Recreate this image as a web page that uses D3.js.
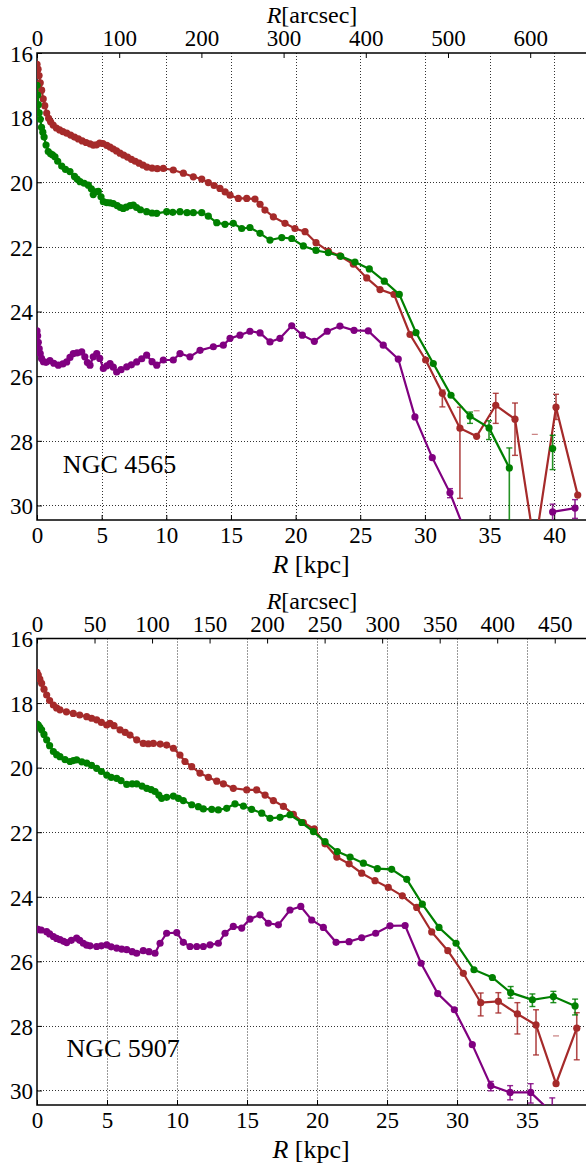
<!DOCTYPE html>
<html>
<head>
<meta charset="utf-8">
<script src="https://cdn.jsdelivr.net/npm/d3@7"></script>
<style>
  body { margin: 0; background: #fff; }
</style>
</head>
<body>
<div id="chart"></div>
<script>
// ---- data: [R (kpc), surface brightness (mag/arcsec^2)], null = gap in line ----
var galaxyNames = ["NGC 4565", "NGC 5907"];
var yTicks = [16, 18, 20, 22, 24, 26, 28, 30];
var kpcTicks4565 = [0, 5, 10, 15, 20, 25, 30, 35, 40];
var kpcTicks5907 = [0, 5, 10, 15, 20, 25, 30, 35];
var arcTicks4565 = [0, 100, 200, 300, 400, 500, 600];
var arcTicks5907 = [0, 50, 100, 150, 200, 250, 300, 350, 400, 450];
var arcsecPerKpc4565 = 15.73;
var arcsecPerKpc5907 = 12.17;

var ngc4565_red = [[0.0,16.35],[0.08,16.5],[0.16,16.7],[0.25,16.92],[0.36,17.15],[0.48,17.42],[0.6,17.63],[0.75,17.86],[0.9,18.02],[1.05,18.13],[1.25,18.23],[1.5,18.32],[1.75,18.38],[2.0,18.43],[2.3,18.48],[2.6,18.54],[2.9,18.6],[3.2,18.66],[3.5,18.72],[3.8,18.77],[4.1,18.81],[4.35,18.85],[4.6,18.84],[4.85,18.79],[5.1,18.8],[5.4,18.86],[5.65,18.91],[5.9,18.97],[6.15,19.03],[6.42,19.1],[6.7,19.16],[7.0,19.22],[7.3,19.29],[7.6,19.35],[7.9,19.41],[8.2,19.47],[8.5,19.53],[8.9,19.56],[9.3,19.58],[9.77,19.57],[10.54,19.62],[11.32,19.72],[12.09,19.83],[12.74,19.9],[13.25,20.01],[13.7,20.1],[14.15,20.19],[14.55,20.3],[14.93,20.4],[15.57,20.5],[16.22,20.5],[16.86,20.52],[17.25,20.68],[17.63,20.86],[18.28,21.07],[19.18,21.27],[19.95,21.43],[20.73,21.53],[21.58,21.87],[22.53,22.13],[23.43,22.28],[24.46,22.53],[25.5,22.96],[26.53,23.32],[27.61,23.47],[28.85,24.71],[30.06,25.5],[31.35,26.53],[32.71,27.61],[34.0,27.86],[35.48,26.9],[36.97,27.33],[38.5,31.3],[40.14,26.96],[41.82,29.68]];
var ngc4565_red_err = [[31.35,26.43,26.95],[32.71,26.96,29.78],[35.48,26.53,27.46],[36.97,26.83,28.45],[40.14,26.56,27.34]];
var ngc4565_red_caps = [[34.0,27.07],[38.5,27.8]];

var ngc4565_green = [[0.0,17.0],[0.05,17.3],[0.1,17.6],[0.17,17.85],[0.25,18.05],[0.35,18.3],[0.45,18.45],[0.55,18.6],[0.7,18.85],[0.87,19.05],[1.05,19.12],[1.2,19.15],[1.39,19.21],[1.6,19.35],[1.91,19.5],[2.2,19.6],[2.55,19.67],[2.9,19.82],[3.1,19.9],[3.33,19.98],[3.65,20.03],[3.97,20.09],[4.2,20.2],[4.35,20.38],[4.5,20.3],[4.74,20.28],[4.95,20.45],[5.13,20.6],[5.4,20.63],[5.65,20.64],[5.9,20.66],[6.2,20.72],[6.45,20.78],[6.67,20.81],[6.9,20.77],[7.2,20.72],[7.45,20.71],[7.7,20.78],[8.0,20.85],[8.48,20.91],[8.9,20.95],[9.26,20.96],[10.03,20.91],[10.5,20.93],[11.06,20.91],[11.6,20.94],[12.09,20.94],[12.74,20.94],[13.25,21.05],[13.9,21.25],[14.54,21.3],[15.18,21.27],[15.83,21.43],[16.47,21.4],[17.25,21.58],[18.02,21.79],[18.93,21.71],[19.7,21.74],[20.6,21.97],[21.58,22.11],[22.53,22.18],[23.49,22.29],[24.59,22.47],[25.7,22.68],[26.86,23.06],[28.02,23.47],[29.31,24.65],[30.65,25.61],[32.02,26.59],[33.49,27.24],[34.96,27.6],[36.53,28.84],null,[39.88,28.24]];
var ngc4565_green_err = [[33.49,27.11,27.46],[34.96,27.38,27.96],[36.53,28.22,32.0],[39.88,27.83,28.89]];

var ngc4565_purple = [[0.0,24.6],[0.05,24.75],[0.1,24.95],[0.17,25.15],[0.25,25.3],[0.35,25.45],[0.5,25.55],[0.7,25.57],[1.0,25.52],[1.3,25.6],[1.65,25.66],[2.0,25.62],[2.3,25.56],[2.55,25.42],[2.81,25.3],[3.1,25.28],[3.46,25.25],[3.7,25.4],[3.9,25.58],[4.1,25.66],[4.35,25.4],[4.62,25.3],[4.85,25.45],[5.13,25.76],[5.4,25.68],[5.65,25.61],[5.9,25.72],[6.16,25.87],[6.5,25.8],[6.94,25.71],[7.3,25.65],[7.71,25.56],[8.1,25.46],[8.48,25.35],[8.9,25.55],[9.26,25.66],[9.77,25.5],[10.54,25.5],[11.06,25.3],[11.83,25.4],[12.61,25.2],[13.64,25.09],[14.41,25.04],[14.93,24.83],[15.7,24.73],[16.47,24.61],[17.25,24.66],[18.02,24.94],[18.79,24.83],[19.7,24.44],[20.52,24.73],[21.45,24.92],[22.45,24.61],[23.43,24.45],[24.52,24.58],[25.62,24.6],[26.78,25.04],[27.94,25.47],[29.23,27.26],[30.57,28.52],[31.94,29.61],[33.3,31.0],null,[39.88,30.2],[41.61,30.08]];
var ngc4565_purple_err = [[31.94,29.48,29.76],[39.88,29.96,30.6],[41.61,29.82,30.4]];

var ngc5907_red = [[0.0,17.05],[0.09,17.13],[0.2,17.26],[0.33,17.39],[0.5,17.57],[0.69,17.75],[0.9,17.92],[1.17,18.06],[1.4,18.15],[1.64,18.21],[2.1,18.27],[2.59,18.32],[3.05,18.37],[3.55,18.42],[3.9,18.47],[4.26,18.52],[4.6,18.6],[4.98,18.68],[5.21,18.63],[5.5,18.7],[5.93,18.83],[6.3,18.91],[6.64,18.99],[7.12,19.14],[7.59,19.25],[7.95,19.26],[8.31,19.25],[8.8,19.27],[9.26,19.3],[9.74,19.4],[10.21,19.61],[10.57,19.81],[11.05,19.97],[11.64,20.17],[12.24,20.3],[12.84,20.42],[13.31,20.5],[14.02,20.64],[14.98,20.69],[15.69,20.69],[16.29,20.85],[16.88,21.02],[17.6,21.2],[18.31,21.45],[19.02,21.7],[19.81,21.9],[20.57,22.36],[21.41,22.77],[22.29,22.98],[23.19,23.27],[24.14,23.5],[25.09,23.71],[26.09,23.97],[27.12,24.33],[28.19,25.09],[29.34,25.67],[30.45,26.37],[31.69,27.28],[32.95,27.24],[34.31,27.63],[35.64,27.97],[37.07,29.79],[38.55,28.07]];
var ngc5907_red_err = [[31.69,26.98,27.69],[32.95,26.97,27.6],[34.31,27.28,28.25],[35.64,27.5,28.9],[38.55,27.59,29.05]];
var ngc5907_red_caps = [[37.07,28.31]];

var ngc5907_green = [[0.0,18.65],[0.09,18.68],[0.2,18.75],[0.33,18.83],[0.5,18.97],[0.69,19.14],[0.9,19.32],[1.17,19.5],[1.4,19.6],[1.64,19.66],[2.0,19.75],[2.36,19.81],[2.6,19.78],[2.83,19.76],[3.2,19.82],[3.55,19.86],[3.9,19.93],[4.26,20.02],[4.6,20.12],[4.98,20.23],[5.3,20.3],[5.69,20.33],[6.0,20.4],[6.41,20.52],[6.8,20.5],[7.12,20.5],[7.5,20.57],[7.84,20.64],[8.15,20.68],[8.43,20.74],[8.7,20.85],[8.9,20.95],[9.26,20.92],[9.74,20.88],[10.1,20.95],[10.45,21.02],[11.05,21.15],[11.52,21.21],[11.88,21.28],[12.48,21.29],[12.95,21.31],[13.55,21.26],[14.14,21.12],[14.74,21.19],[15.33,21.29],[16.05,21.41],[16.64,21.57],[17.36,21.54],[18.07,21.46],[18.9,21.7],[19.74,21.98],[20.57,22.29],[21.45,22.6],[22.36,22.77],[23.31,22.96],[24.31,23.13],[25.33,23.15],[26.41,23.46],[27.52,24.23],[28.71,24.95],[29.93,25.44],[31.21,26.26],[32.52,26.5],[33.83,26.97],[35.38,27.19],[36.88,27.09],[38.43,27.38]];
var ngc5907_green_err = [[33.83,26.78,27.14],[35.38,27.01,27.4],[36.88,26.93,27.28],[38.43,27.17,27.66]];

var ngc5907_purple = [[0.0,25.0],[0.09,25.02],[0.3,25.03],[0.69,25.08],[0.9,25.15],[1.17,25.23],[1.4,25.29],[1.64,25.33],[1.9,25.38],[2.12,25.42],[2.45,25.35],[2.83,25.28],[3.05,25.35],[3.31,25.44],[3.55,25.5],[3.79,25.52],[4.26,25.54],[4.6,25.52],[4.98,25.49],[5.3,25.55],[5.69,25.59],[6.05,25.62],[6.41,25.64],[6.8,25.7],[7.12,25.75],[7.59,25.67],[8.0,25.7],[8.43,25.75],[8.79,25.44],[9.26,25.13],[9.98,25.11],[10.45,25.41],[10.93,25.54],[11.41,25.54],[11.88,25.54],[12.36,25.49],[12.95,25.44],[13.43,25.13],[14.02,24.92],[14.62,24.97],[15.21,24.69],[15.93,24.56],[16.52,24.82],[17.24,24.87],[18.07,24.41],[18.84,24.3],[19.62,24.72],[20.45,24.95],[21.36,25.41],[22.29,25.39],[23.19,25.27],[24.19,25.13],[25.21,24.9],[26.29,24.89],[27.43,26.06],[28.62,27.0],[29.81,27.5],[31.09,28.58],[32.41,29.85],[33.79,30.06],[35.26,30.06],[36.8,30.7]];
var ngc5907_purple_err = [[32.41,29.72,30.01],[33.79,29.85,30.29],[35.26,29.79,30.39],[36.8,30.23,31.2]];

var colors = { red: "#a52a2a", green: "#008000", purple: "#800080" };
var FONT = "'Liberation Serif', 'DejaVu Serif', 'Times New Roman', serif";

// ---- layout ----
var W = 586, H = 1164;
var svg = d3.select("#chart").append("svg")
    .attr("width", W).attr("height", H);

var panels = [
  { name: galaxyNames[0], top: 53, bottom: 520, xmax: 42.46, kpcTicks: kpcTicks4565, arcTicks: arcTicks4565, scale: arcsecPerKpc4565,
    label: [2.0, 29.0],
    series: [
      { key: "red", pts: ngc4565_red, err: ngc4565_red_err, caps: ngc4565_red_caps },
      { key: "green", pts: ngc4565_green, err: ngc4565_green_err, caps: [] },
      { key: "purple", pts: ngc4565_purple, err: ngc4565_purple_err, caps: [] }
    ] },
  { name: galaxyNames[1], top: 638.5, bottom: 1105, xmax: 39.21, kpcTicks: kpcTicks5907, arcTicks: arcTicks5907, scale: arcsecPerKpc5907,
    label: [2.1, 28.95],
    series: [
      { key: "red", pts: ngc5907_red, err: ngc5907_red_err, caps: ngc5907_red_caps },
      { key: "green", pts: ngc5907_green, err: ngc5907_green_err, caps: [] },
      { key: "purple", pts: ngc5907_purple, err: ngc5907_purple_err, caps: [] }
    ] }
];

var left = 37, right = 586;

panels.forEach(function(p, i) {
  var x = d3.scaleLinear().domain([0, p.xmax]).range([left, right]);
  var xa = d3.scaleLinear().domain([0, p.xmax * p.scale]).range([left, right]);
  var y = d3.scaleLinear().domain([16, 30.45]).range([p.top, p.bottom]);
  var g = svg.append("g");

  var clipId = "clip" + i;
  svg.append("clipPath").attr("id", clipId)
    .append("rect").attr("x", left).attr("y", p.top)
    .attr("width", right - left).attr("height", p.bottom - p.top);

  // grid
  var grid = g.append("g").attr("class", "grid");
  grid.selectAll("line.v").data(p.kpcTicks.filter(function(d) { return d > 0; }))
    .enter().append("line")
      .attr("x1", function(d) { return Math.round(x(d)) + 0.5; })
      .attr("x2", function(d) { return Math.round(x(d)) + 0.5; })
      .attr("y1", p.top).attr("y2", p.bottom);
  grid.selectAll("line.h").data(yTicks.filter(function(d) { return d > 16; }))
    .enter().append("line")
      .attr("x1", left).attr("x2", right)
      .attr("y1", function(d) { return Math.round(y(d)) + 0.5; })
      .attr("y2", function(d) { return Math.round(y(d)) + 0.5; });
  grid.selectAll("line")
    .attr("stroke", "#333").attr("stroke-width", 1).attr("stroke-dasharray", "1,2");

  // axes
  var axB = g.append("g").attr("transform", "translate(0," + p.bottom + ")")
    .call(d3.axisBottom(x).tickValues(p.kpcTicks).tickSize(-5).tickPadding(7).tickFormat(d3.format("d")));
  var axT = g.append("g").attr("transform", "translate(0," + p.top + ")")
    .call(d3.axisTop(xa).tickValues(p.arcTicks).tickSize(-5).tickPadding(7).tickFormat(d3.format("d")));
  var axL = g.append("g").attr("transform", "translate(" + left + ",0)")
    .call(d3.axisLeft(y).tickValues(yTicks).tickSize(-5).tickPadding(4).tickFormat(d3.format("d")));
  [axB, axT, axL].forEach(function(a) {
    a.attr("font-family", null).attr("font-size", null);
    a.select(".domain").remove();
    a.selectAll("text").style("font-family", FONT).style("font-size", "23px").style("fill", "#000");
    a.selectAll(".tick line").attr("stroke", "#000");
  });
  axL.selectAll("text").attr("dy", "0.36em");

  // frame
  g.append("rect").attr("x", left).attr("y", p.top)
    .attr("width", right - left + 2).attr("height", p.bottom - p.top)
    .attr("fill", "none").attr("stroke", "#000").attr("stroke-width", 1.5);

  // axis titles
  var tTop = g.append("text").attr("x", 312).attr("y", p.top - 30)
    .attr("text-anchor", "middle").style("font-family", FONT).style("font-size", "24px");
  tTop.append("tspan").style("font-style", "italic").text("R");
  tTop.append("tspan").text("[arcsec]");
  var tBot = g.append("text").attr("x", 311).attr("y", p.bottom + 53)
    .attr("text-anchor", "middle").style("font-family", FONT).style("font-size", "26px");
  tBot.append("tspan").style("font-style", "italic").text("R");
  tBot.append("tspan").text(" [kpc]");

  // data
  var plot = g.append("g").attr("clip-path", "url(#" + clipId + ")");
  var line = d3.line()
    .defined(function(d) { return d !== null; })
    .x(function(d) { return x(d[0]); })
    .y(function(d) { return y(d[1]); });

  p.series.forEach(function(s) {
    var c = colors[s.key];
    var sg = plot.append("g");
    // error bars
    s.err.forEach(function(e) {
      sg.append("line").attr("x1", x(e[0])).attr("x2", x(e[0]))
        .attr("y1", y(e[1])).attr("y2", y(e[2]))
        .attr("stroke", c).attr("stroke-width", 1.6).attr("opacity", 0.85);
      [e[1], e[2]].forEach(function(v) {
        sg.append("line").attr("x1", x(e[0]) - 3).attr("x2", x(e[0]) + 3)
          .attr("y1", y(v)).attr("y2", y(v))
          .attr("stroke", c).attr("stroke-width", 1.4).attr("opacity", 0.85);
      });
    });
    s.caps.forEach(function(e) {
      sg.append("line").attr("x1", x(e[0]) - 3).attr("x2", x(e[0]) + 3)
        .attr("y1", y(e[1])).attr("y2", y(e[1]))
        .attr("stroke", c).attr("stroke-width", 1.2).attr("opacity", 0.6);
    });
    sg.append("path").datum(s.pts)
      .attr("d", line).attr("fill", "none")
      .attr("stroke", c).attr("stroke-width", 2.2);
    sg.selectAll("circle").data(s.pts.filter(function(d) { return d !== null; }))
      .enter().append("circle")
        .attr("cx", function(d) { return x(d[0]); })
        .attr("cy", function(d) { return y(d[1]); })
        .attr("r", 3.6)
        .attr("fill", c);
  });

  // galaxy name
  g.append("text").attr("x", x(p.label[0])).attr("y", y(p.label[1]))
    .style("font-family", FONT).style("font-size", "26px").text(p.name);
});
</script>
</body>
</html>
